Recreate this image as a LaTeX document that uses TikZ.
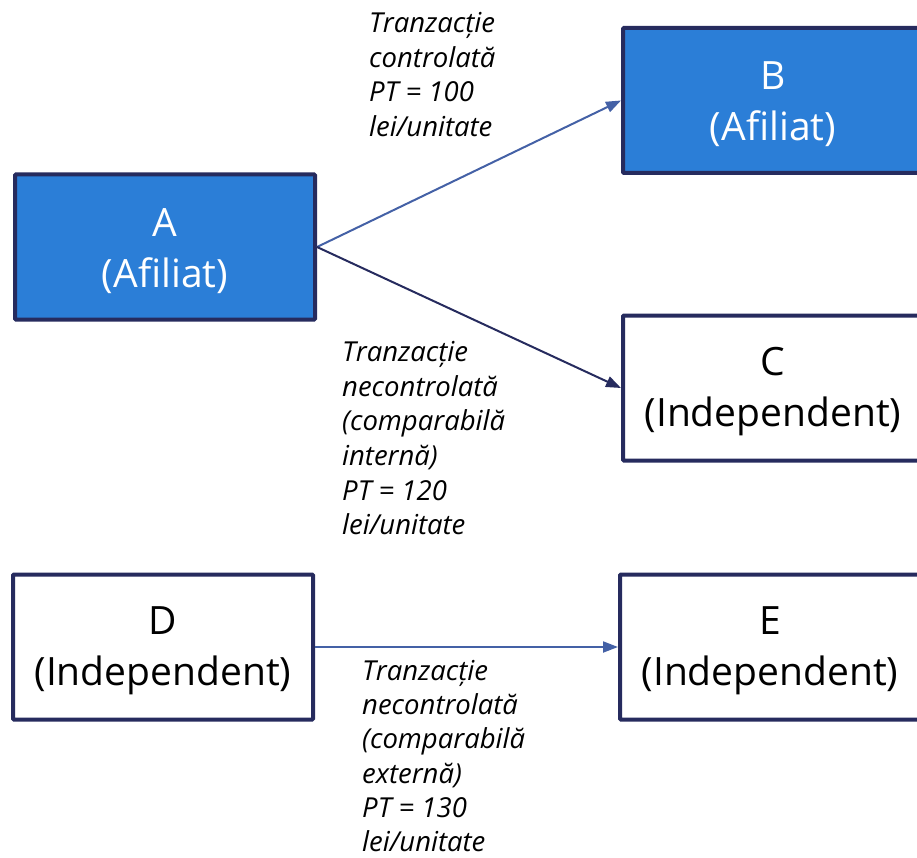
\documentclass[tikz,border=0pt]{standalone}
\usepackage{fontspec}
\setmainfont{Open Sans}
\usetikzlibrary{arrows.meta}
\definecolor{navy}{HTML}{262B5E}
\definecolor{boxblue}{HTML}{2B7ED7}
\definecolor{arrowblue}{HTML}{4461A6}
\newcommand{\toplift}{\rule{0pt}{36pt}}
\tikzset{
  entity/.style={draw=navy, line width=4pt, minimum width=300pt, minimum height=145pt,
    inner sep=0pt, align=center, rounded corners=1pt, font=\fontsize{39}{51}\selectfont},
  affiliate/.style={entity, fill=boxblue, text=white},
  indep/.style={entity, fill=white, text=black},
  flow/.style={line width=2pt, -{Triangle[length=15pt,width=11pt]}},
  note/.style={anchor=north west, inner sep=0pt, align=left,
    font=\fontsize{27.5}{34.7}\selectfont\itshape}
}
\begin{document}
\begin{tikzpicture}[x=1pt,y=-1pt]
\useasboundingbox (0,0) rectangle (917,858);
\clip (0,0) rectangle (917,858);
\node[affiliate] (A) at (165,247) {\toplift A\\(Afiliat)};
\node[affiliate] (B) at (773,100.5) {\toplift B\\(Afiliat)};
\node[indep] (C) at (773,388) {\toplift C\\(Independent)};
\node[indep] (D) at (163,647) {\toplift D\\(Independent)};
\node[indep] (E) at (770,647) {\toplift E\\(Independent)};
\draw[flow, arrowblue] (A.east) -- (B.west);
\draw[flow, navy] (A.east) -- (C.west);
\draw[flow, arrowblue] (D.east) -- (E.west);
\node[note] (n1) at (369,12) {Tranzacție\\controlată\\PT = 100\\lei/unitate};
\node[note] (n2) at (342,341) {Tranzacție\\necontrolată\\(comparabilă\\internă)\\PT = 120\\lei/unitate};
\node[note, font=\fontsize{27.5}{34.2}\selectfont\itshape] (n3) at (362,660) {Tranzacție\\necontrolată\\(comparabilă\\externă)\\PT = 130\\lei/unitate};
\end{tikzpicture}
\end{document}
